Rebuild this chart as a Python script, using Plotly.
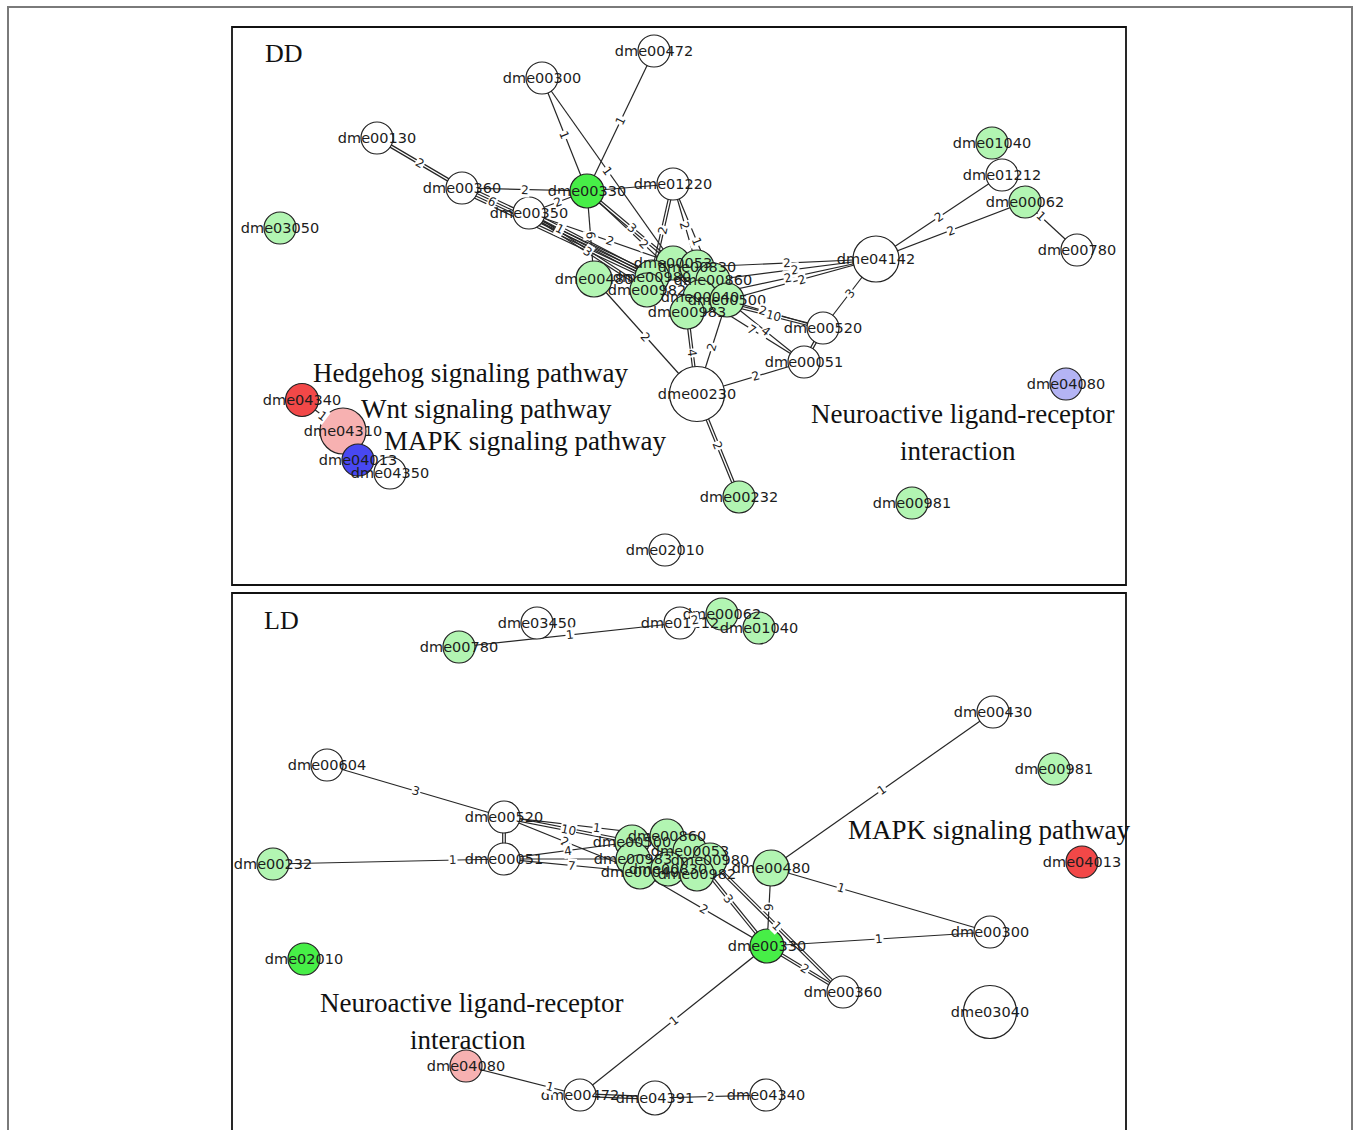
import math
import plotly.graph_objects as go

# ---------------- DD network ----------------
dd_nodes = ["dme00472", "dme00300", "dme00130", "dme00360", "dme00330", "dme01220", "dme00350",
            "dme03050", "dme01040", "dme01212", "dme00062", "dme00780", "dme04142", "dme00480",
            "dme00053", "dme00830", "dme00980", "dme00982", "dme00860", "dme00040", "dme00500",
            "dme00983", "dme00520", "dme00051", "dme00230", "dme04080", "dme04340", "dme04310",
            "dme04013", "dme04350", "dme00232", "dme00981", "dme02010"]
dd_x = [654, 542, 377, 462, 587, 673, 529, 280, 992, 1002, 1025, 1077, 876, 594,
        673, 697, 652, 647, 713, 700, 727, 687, 823, 804, 697, 1066, 302, 343,
        358, 390, 739, 912, 665]
dd_y = [51, 78, 138, 188, 191, 184, 213, 228, 143, 175, 202, 250, 259, 279,
        263, 267, 277, 290, 280, 297, 300, 312, 328, 362, 394, 384, 400, 431,
        460, 473, 497, 503, 550]
dd_weight = [32, 32, 32, 32, 34, 32, 32, 32, 32, 32, 32, 32, 46, 36,
             34, 34, 34, 34, 34, 34, 34, 34, 32, 32, 55, 32, 33, 46,
             32, 32, 32, 32, 32]
dd_group = ["none", "none", "none", "none", "up_strong", "none", "none",
            "up", "up", "none", "up", "none", "none", "up",
            "up", "up", "up", "up", "up", "up", "up",
            "up", "none", "none", "none", "down_light", "dn_strong", "dn_light",
            "down", "none", "up", "up", "none"]

dd_edge_src = ["dme00300", "dme00300", "dme00472", "dme00130", "dme00360", "dme00360", "dme00350",
               "dme00350", "dme00350", "dme00350", "dme00330", "dme00330", "dme00330", "dme00330",
               "dme01220", "dme01220", "dme01220", "dme00830", "dme00860", "dme00500", "dme00040",
               "dme00500", "dme00040", "dme00040", "dme00500", "dme04142", "dme00520", "dme00480",
               "dme00983", "dme00500", "dme00230", "dme00230", "dme04340", "dme04142", "dme04142",
               "dme00062"]
dd_edge_dst = ["dme00330", "dme00053", "dme00330", "dme00360", "dme00330", "dme00980", "dme00330",
               "dme00980", "dme00982", "dme00053", "dme00480", "dme00053", "dme00040", "dme01220",
               "dme00980", "dme00830", "dme00860", "dme04142", "dme04142", "dme04142", "dme04142",
               "dme00520", "dme00520", "dme00051", "dme00051", "dme00520", "dme00051", "dme00230",
               "dme00230", "dme00230", "dme00051", "dme00232", "dme04310", "dme01212", "dme00062",
               "dme00780"]
dd_edge_label = ["1", "1", "1", "2", "2", "6", "2",
                 "1", "3", "2", "6", "3", "2", "",
                 "2", "2", "1", "2", "2", "2", "2",
                 "2", "10", "7", "4", "3", "", "2",
                 "4", "2", "2", "2", "1", "2", "2",
                 "1"]
dd_edge_count = [1, 1, 1, 2, 1, 4, 1,
                 3, 2, 1, 1, 2, 1, 1,
                 2, 1, 1, 1, 1, 1, 1,
                 1, 2, 1, 1, 1, 2, 1,
                 2, 1, 1, 2, 1, 1, 1,
                 1]
dd_edge_t = [0.5, 0.5, 0.5, 0.5, 0.5, 0.16, 0.5,
             0.25, 0.5, 0.56, 0.5, 0.52, 0.5, 0.5,
             0.5, 0.5, 0.6, 0.5, 0.5, 0.5, 0.5,
             0.38, 0.6, 0.5, 0.5, 0.5, 0.5, 0.5,
             0.5, 0.5, 0.55, 0.5, 0.5, 0.5, 0.5,
             0.3]

# ---------------- LD network ----------------
ld_nodes = ["dme03450", "dme00780", "dme01212", "dme00062", "dme01040", "dme00430", "dme00604",
            "dme00981", "dme00520", "dme00051", "dme00232", "dme00500", "dme00860", "dme00053",
            "dme00983", "dme00980", "dme00040", "dme00830", "dme00982", "dme00480", "dme04013",
            "dme00330", "dme00300", "dme02010", "dme00360", "dme03040", "dme04080", "dme00472",
            "dme04391", "dme04340"]
ld_x = [537, 459, 680, 722, 759, 993, 327,
        1054, 504, 504, 273, 632, 667, 690,
        633, 710, 640, 668, 697, 771, 1082,
        767, 990, 304, 843, 990, 466, 580,
        655, 766]
ld_y = [623, 647, 623, 614, 628, 712, 765,
        769, 817, 859, 864, 842, 836, 851,
        859, 860, 872, 869, 874, 868, 862,
        946, 932, 959, 992, 1012, 1066, 1095,
        1098, 1095]
ld_weight = [32, 32, 32, 32, 32, 32, 32,
             32, 32, 32, 32, 34, 34, 34,
             34, 34, 34, 34, 34, 36, 32,
             34, 32, 32, 32, 53, 32, 32,
             34, 32]
ld_group = ["none", "up", "none", "up", "up", "none", "none",
            "up", "none", "none", "up", "up", "up", "up",
            "up", "up", "up", "up", "up", "up", "dn_strong",
            "up_strong", "none", "up_strong", "none", "none", "dn_light", "none",
            "none", "none"]

ld_edge_src = ["dme00780", "dme01212", "dme00604", "dme00520", "dme00520", "dme00520", "dme00520",
               "dme00232", "dme00051", "dme00051", "dme00051", "dme00040", "dme00053", "dme00480",
               "dme00980", "dme00330", "dme00480", "dme00480", "dme00330", "dme00330", "dme04080",
               "dme00472", "dme04391"]
ld_edge_dst = ["dme01212", "dme00062", "dme00520", "dme00500", "dme00860", "dme00040", "dme00051",
               "dme00051", "dme00500", "dme00040", "dme00983", "dme00330", "dme00330", "dme00330",
               "dme00360", "dme00360", "dme00430", "dme00300", "dme00300", "dme00472", "dme00472",
               "dme04391", "dme04340"]
ld_edge_label = ["1", "2", "3", "10", "1", "2", "",
                 "1", "4", "7", "", "2", "3", "9",
                 "1", "2", "1", "1", "1", "1", "1",
                 "", "2"]
ld_edge_count = [1, 1, 1, 2, 1, 1, 2,
                 1, 1, 1, 1, 1, 2, 1,
                 2, 2, 1, 1, 1, 1, 1,
                 2, 1]
ld_edge_t = [0.5, 0.35, 0.5, 0.5, 0.57, 0.45, 0.5,
             0.78, 0.5, 0.5, 0.5, 0.5, 0.5, 0.5,
             0.5, 0.5, 0.5, 0.32, 0.5, 0.5, 0.74,
             0.5, 0.5]

# ---------------- annotations text ----------------
panel_titles = ["DD", "LD"]
dd_pathway_text = ["Hedgehog signaling pathway", "Wnt signaling pathway", "MAPK signaling pathway",
                   "Neuroactive ligand-receptor", "interaction"]
ld_pathway_text = ["MAPK signaling pathway", "Neuroactive ligand-receptor", "interaction"]

# ---------------- styles ----------------
COLOR = {
    "none": "#ffffff",
    "up": "#b2f5b2",
    "up_strong": "#47ee47",
    "dn_strong": "#f24848",
    "dn_light": "#f7b1b1",
    "down": "#4848f2",
    "down_light": "#b4b4f4",
}
EDGE_COLOR = "#262626"
NODE_FONT = dict(family="DejaVu Sans", size=14.5, color="#1c1c1c")
EDGE_FONT = dict(family="DejaVu Sans", size=12, color="#1c1c1c")
SERIF = dict(family="Liberation Serif, Times New Roman, serif", size=27, color="#111111")
LABEL_DY = 1.2

fig = go.Figure()
annotations = []


def add_network(names, xs, ys, weights, groups, src, dst, labels, counts, ts):
    pos = {n: (x, y) for n, x, y in zip(names, xs, ys)}
    ex, ey = [], []
    for s, d, lab, m, t in zip(src, dst, labels, counts, ts):
        x0, y0 = pos[s]
        x1, y1 = pos[d]
        dx, dy = x1 - x0, y1 - y0
        L = math.hypot(dx, dy) or 1.0
        px, py = -dy / L, dx / L
        for k in range(m):
            off = (k - (m - 1) / 2.0) * 2.6
            ex += [x0 + px * off, x1 + px * off, None]
            ey += [y0 + py * off, y1 + py * off, None]
        if lab:
            ang = math.degrees(math.atan2(dy, dx))
            if ang > 90:
                ang -= 180
            elif ang <= -90:
                ang += 180
            annotations.append(dict(
                x=x0 + t * dx, y=y0 + t * dy, xref="x", yref="y", text=lab,
                showarrow=False, textangle=ang, font=EDGE_FONT,
                bgcolor="white", borderpad=0, xanchor="center", yanchor="middle"))
    fig.add_trace(go.Scatter(x=ex, y=ey, mode="lines",
                             line=dict(color=EDGE_COLOR, width=1.2),
                             hoverinfo="skip", showlegend=False))
    fig.add_trace(go.Scatter(
        x=xs, y=ys, mode="markers",
        marker=dict(size=weights, color=[COLOR[g] for g in groups],
                    line=dict(color="#222222", width=1.2), opacity=1),
        hoverinfo="text", text=names, showlegend=False))
    fig.add_trace(go.Scatter(
        x=xs, y=[v + LABEL_DY for v in ys], mode="text", text=names,
        textposition="middle center",
        textfont=NODE_FONT, hoverinfo="skip", showlegend=False))


add_network(dd_nodes, dd_x, dd_y, dd_weight, dd_group,
            dd_edge_src, dd_edge_dst, dd_edge_label, dd_edge_count, dd_edge_t)
add_network(ld_nodes, ld_x, ld_y, ld_weight, ld_group,
            ld_edge_src, ld_edge_dst, ld_edge_label, ld_edge_count, ld_edge_t)

# panel titles
for title, (tx, ty) in zip(panel_titles, [(263, 53), (262, 620)]):
    annotations.append(dict(x=tx, y=ty, xref="x", yref="y", text=title, showarrow=False,
                            xanchor="left", yanchor="middle",
                            font=dict(family="Liberation Serif, Times New Roman, serif",
                                      size=26, color="#111111")))

# pathway labels
for txt, (tx, ty) in zip(dd_pathway_text,
                         [(470, 373), (486, 409), (525, 441), (963, 414), (958, 451)]):
    annotations.append(dict(x=tx, y=ty, xref="x", yref="y", text=txt, showarrow=False,
                            xanchor="center", yanchor="middle", font=SERIF))
for txt, (tx, ty) in zip(ld_pathway_text, [(989, 830), (472, 1003), (468, 1040)]):
    annotations.append(dict(x=tx, y=ty, xref="x", yref="y", text=txt, showarrow=False,
                            xanchor="center", yanchor="middle", font=SERIF))

shapes = [
    dict(type="rect", xref="x", yref="y", x0=8, y0=7, x1=1352, y1=1160,
         line=dict(color="#7a7a7a", width=2), fillcolor="rgba(0,0,0,0)", layer="below"),
    dict(type="rect", xref="x", yref="y", x0=232, y0=27, x1=1126, y1=585,
         line=dict(color="#111111", width=1.8), fillcolor="rgba(0,0,0,0)", layer="below"),
    dict(type="rect", xref="x", yref="y", x0=232, y0=593, x1=1126, y1=1160,
         line=dict(color="#111111", width=1.8), fillcolor="rgba(0,0,0,0)", layer="below"),
]

fig.update_layout(
    width=1356, height=1130,
    margin=dict(l=0, r=0, t=0, b=0),
    paper_bgcolor="white", plot_bgcolor="white",
    xaxis=dict(range=[0, 1356], visible=False, fixedrange=True),
    yaxis=dict(range=[1130, 0], visible=False, fixedrange=True),
    showlegend=False,
    annotations=annotations,
    shapes=shapes,
)

fig.write_html("out.html", config={"displayModeBar": False},
               post_script="document.body.style.margin='0';document.body.style.overflow='hidden';")
